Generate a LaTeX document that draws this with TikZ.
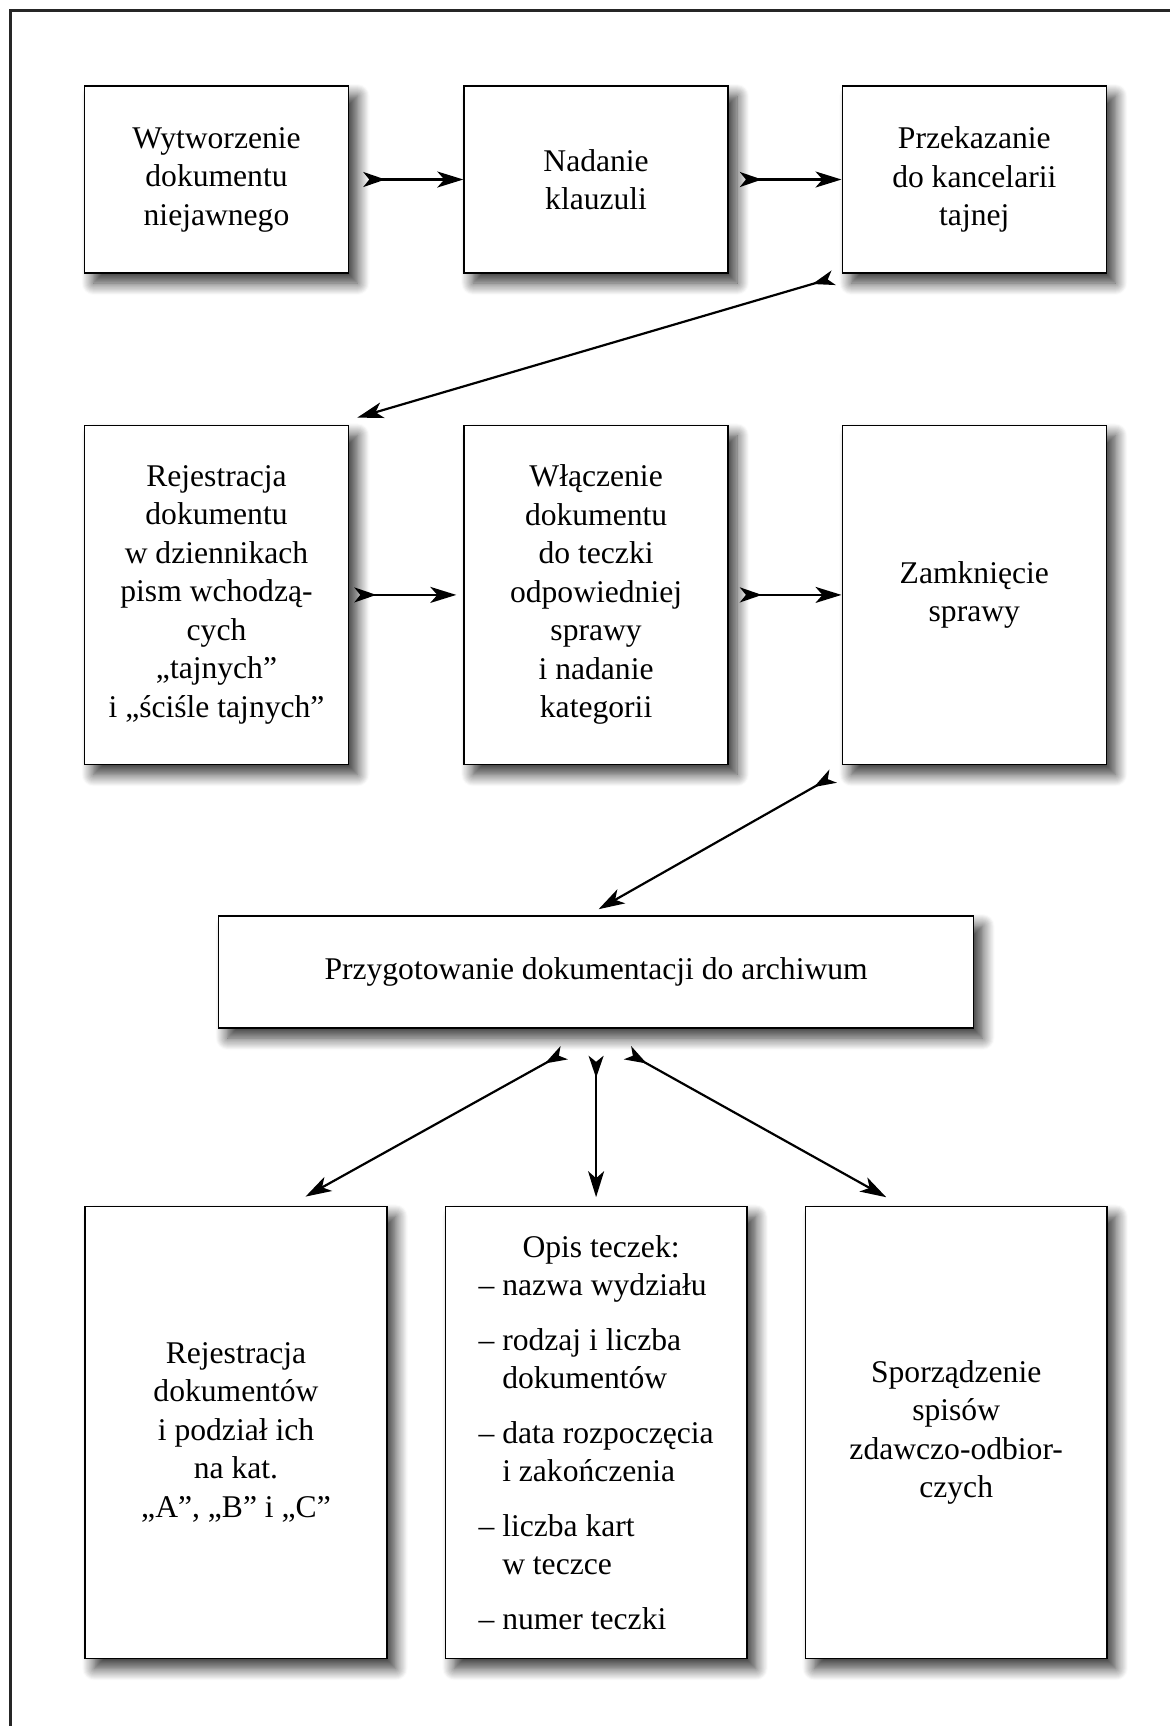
\documentclass[tikz,border=0pt]{standalone}
\usepackage{fontspec}
\setmainfont{Liberation Serif}
\usepackage{tikz}
\usetikzlibrary{arrows.meta,positioning,shadows.blur}

\begin{document}
\begin{tikzpicture}[
  x=0.5pt, y=-0.5pt,
  font=\fontsize{15.8}{19.25}\selectfont,
  box/.style={draw, line width=0.8pt, fill=white, align=center, inner sep=2pt,
    blur shadow={shadow xshift=4.5pt, shadow yshift=-5pt, shadow blur radius=6pt, shadow blur steps=12, shadow opacity=80}},
  small/.style={box, minimum width=132pt, minimum height=93.5pt},
  tall/.style={box, minimum width=132pt, minimum height=169.5pt},
  wide/.style={box, minimum width=377.5pt, minimum height=56pt},
  big/.style={box, minimum width=150.75pt, minimum height=226pt},
  arrow/.style={{Stealth[reversed, length=11pt, width=7.5pt, inset=3pt]}-{Stealth[length=13pt, width=8pt, inset=3.5pt]}, line width=1.1pt}
]
\useasboundingbox (0,0) rectangle (1170,1726);
\draw[line width=1.5pt, draw=black!85] (10.5,10.5) rectangle (1220,1780);

\node[small] (a1) at (216.5,179.5) {Wytworzenie\\dokumentu\\niejawnego};
\node[small, right=57pt of a1] (a2) {Nadanie\\klauzuli};
\node[small, right=56.3pt of a2] (a3) {Przekazanie\\do kancelarii\\tajnej};
\node[tall, below=75.4pt of a1] (b1) {Rejestracja\\dokumentu\\w dziennikach\\pism wchodzą-\\cych\\„tajnych”\\i „ściśle tajnych”};
\node[tall, below=75.4pt of a2] (b2) {Włączenie\\dokumentu\\do teczki\\odpowiedniej\\sprawy\\i nadanie\\kategorii};
\node[tall, below=75.4pt of a3] (b3) {Zamknięcie\\sprawy};
\node[wide, below=75pt of b2] (arch) {Przygotowanie dokumentacji do archiwum};
\node[big, align=left, below=88.4pt of arch] (c2) {\hspace*{22pt}Opis teczek:\\
– nazwa wydziału\\[8pt]
– rodzaj i liczba\\
\phantom{– }dokumentów\\[8pt]
– data rozpoczęcia\\
\phantom{– }i zakończenia\\[8pt]
– liczba kart\\
\phantom{– }w teczce\\[8pt]
– numer teczki};
\node[big, left=28.5pt of c2] (c1) {Rejestracja\\dokumentów\\i podział ich\\na kat.\\„A”, „B” i „C”};
\node[big, right=28.5pt of c2] (c3) {Sporządzenie\\spisów\\zdawczo-odbior-\\czych};

\draw[arrow] ([xshift=7pt]a1.east) -- (a2.west);
\draw[arrow] ([xshift=5.5pt]a2.east) -- (a3.west);
\draw[arrow] ([shift={(-4pt,-2pt)}]a3.south west) -- ([shift={(4pt,3.5pt)}]b1.north east);
\draw[arrow] ([xshift=2.5pt]b1.east) -- ([xshift=-3.5pt]b2.west);
\draw[arrow] ([xshift=5.5pt]b2.east) -- (b3.west);
\draw[arrow] ([shift={(-4.25pt,-5.5pt)}]b3.south west) -- ([shift={(1.25pt,3pt)}]arch.north);
\draw[arrow] ([shift={(-16pt,-12pt)}]arch.south) -- ([shift={(34.75pt,4.5pt)}]c1.north);
\draw[arrow] ([yshift=-13.5pt]arch.south) -- ([yshift=4.2pt]c2.north);
\draw[arrow] ([shift={(15.75pt,-12pt)}]arch.south) -- ([shift={(-35pt,4.2pt)}]c3.north);
\end{tikzpicture}
\end{document}
